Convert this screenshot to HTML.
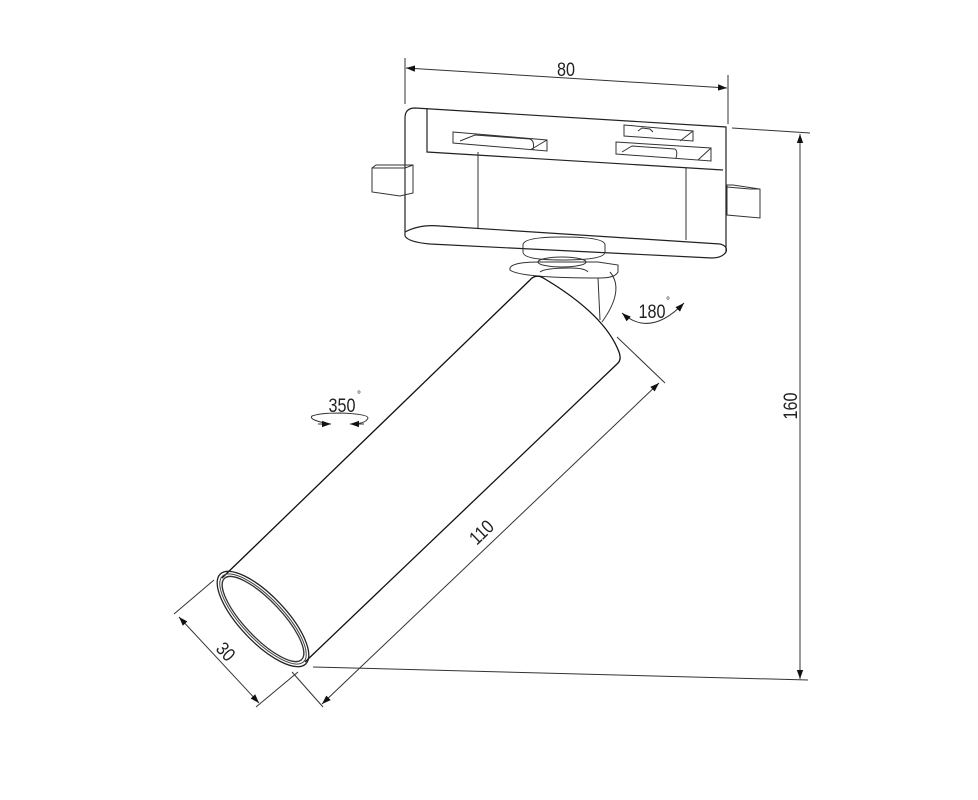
<!DOCTYPE html>
<html><head><meta charset="utf-8"><style>
html,body{margin:0;padding:0;background:#fff;}
svg{display:block;}
text{font-family:"Liberation Sans",sans-serif;fill:#222;}
</style></head><body>
<svg width="978" height="800" viewBox="0 0 978 800" xmlns="http://www.w3.org/2000/svg">
<defs>
<marker id="a" viewBox="0 0 10 10" refX="10" refY="5" markerWidth="9" markerHeight="9" orient="auto-start-reverse"><path d="M0,1.5 L10,5 L0,8.5 z" fill="#111"/></marker>
</defs>
<g stroke="#333" stroke-width="1" fill="none">
<!-- 80 dim -->
<line x1="405" y1="58" x2="405" y2="104"/>
<line x1="728" y1="75" x2="728" y2="124"/>
<line x1="406" y1="68" x2="727" y2="88" marker-start="url(#a)" marker-end="url(#a)"/>
<!-- 160 dim -->
<line x1="732" y1="128" x2="810" y2="133"/>
<line x1="800" y1="134" x2="800" y2="679" marker-start="url(#a)" marker-end="url(#a)"/>
<line x1="313" y1="667" x2="808" y2="680"/>
<!-- adapter -->
<g stroke="#222" stroke-width="1.2">
<path d="M415,108 L726,127 L726,252 M405,118 Q405,108 415,108 M405,118 L405,236"/>
<path d="M427,108 L427,152 L723,170"/>
<path d="M405,232 Q420,224 440,226 L720,244 Q728,246 726,252 Q722,258 712,258 L430,244 Q408,242 405,236"/>
</g>
<line x1="478" y1="152" x2="478" y2="228"/>
<line x1="686" y1="168" x2="686" y2="240"/>
<!-- slots -->
<path d="M453,132 L547,140 L547,151 L453,143 z M460,141 L475,135 L530,139 Q535,141 533,150 M547,140 L530,150"/>
<path d="M624,125 L693,131 L693,141 L624,136 z M638,131 L642,128 L650,129 L653,132 M693,131 L680,141"/>
<path d="M616,142 L711,148 L711,161 L616,154 z M622,152 L632,146 L675,149 Q678,151 676,158 M711,148 L698,160"/>
<!-- tabs -->
<path d="M372,168 L372,192 L400,196 L413,193 L413,165 L376,165 z M372,168 L405,168 L413,165 M405,168 L405,192"/>
<path d="M727,185 L727,215 L760,218 L760,189 L733,185 z M727,187 L750,189 L760,189"/>
<!-- joint -->
<path d="M523,245 Q523,237 562,237 Q605,237 605,245 L605,252 Q605,260 562,260 Q523,260 523,252 z"/>
<ellipse cx="562" cy="262" rx="24" ry="5"/>
<path d="M510,270 Q508,262 540,262 L598,262 L618,265 L618,272 Q615,278 600,278 Q520,278 510,270 z"/>
<path d="M540,272 Q545,268 570,268 Q585,268 588,272"/>
<path d="M598,278 L600,320 M610,272 Q625,290 602,322"/>
<!-- tube -->
<path d="M222,578 L530,280 Q536,273 545,279 Q605,315 619,352 Q622,360 617,364 L305,662" stroke="#111" stroke-width="1.3"/>
<g transform="translate(263,619) rotate(46.5)">
<ellipse cx="0" cy="0" rx="62" ry="23" stroke="#222" stroke-width="1.3"/>
<ellipse cx="0" cy="0" rx="59" ry="20.5" stroke="#444"/>
<ellipse cx="0" cy="0" rx="56" ry="18.5" stroke="#333" stroke-width="1.3"/>
</g>
<!-- 30 dim -->
<line x1="214" y1="580" x2="174" y2="614"/>
<line x1="298" y1="672" x2="256" y2="707"/>
<line x1="179" y1="617" x2="259" y2="703" marker-start="url(#a)" marker-end="url(#a)"/>
<!-- 110 dim -->
<line x1="617" y1="337" x2="665" y2="383"/>
<line x1="292" y1="672" x2="323" y2="707"/>
<line x1="322" y1="704" x2="659" y2="383" marker-start="url(#a)" marker-end="url(#a)"/>
<!-- 180 arrows -->
<path d="M622,313 Q650,338 684,303" marker-start="url(#a)" marker-end="url(#a)"/>
<!-- 350 arrows -->
<path d="M330,424 Q308,420 312,416 Q320,413 340,413 Q368,414 368,418 Q366,424 350,424"/>
<line x1="318" y1="424" x2="331" y2="424" marker-end="url(#a)"/>
<line x1="364" y1="424" x2="350" y2="424" marker-end="url(#a)"/>
</g>
<g font-size="19">
<text transform="translate(566,76) scale(0.85,1)" text-anchor="middle">80</text>
<text transform="translate(652,318) scale(0.85,1)" text-anchor="middle">180</text>
<text transform="translate(342,412) scale(0.85,1)" text-anchor="middle">350</text>
<text transform="translate(797,406) rotate(-90) scale(0.85,1)" text-anchor="middle">160</text>
<text transform="translate(486,537) rotate(-44) scale(0.85,1)" text-anchor="middle">110</text>
<text transform="translate(221,656) rotate(47) scale(0.85,1)" text-anchor="middle">30</text>
</g>
<text x="666" y="304" font-size="10">°</text>
<text x="357" y="398" font-size="10">°</text>
</svg>
</body></html>
